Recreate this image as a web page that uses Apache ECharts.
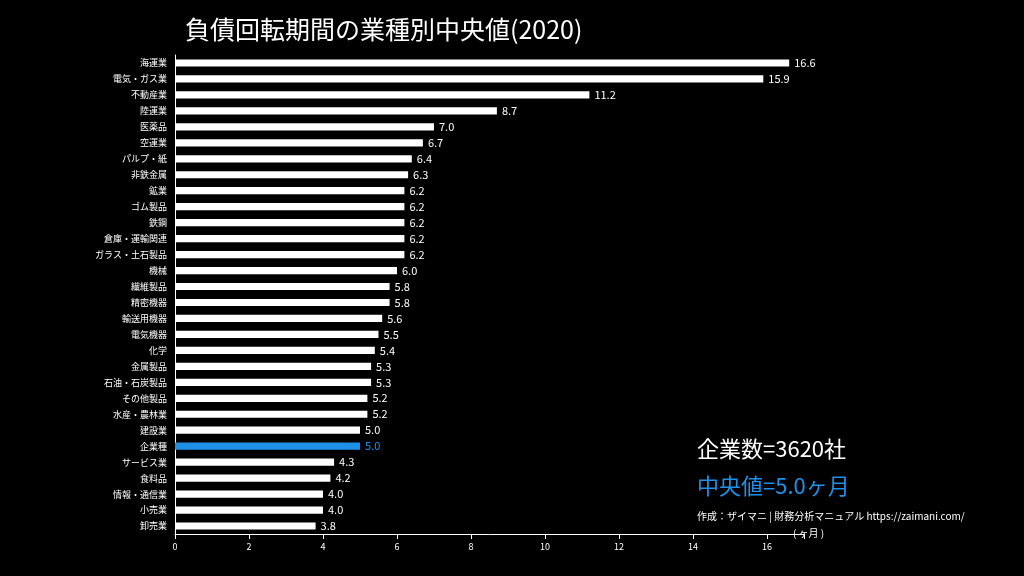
<!DOCTYPE html><html><head><meta charset="utf-8">
<script src="https://cdn.jsdelivr.net/npm/echarts@6/dist/echarts.min.js"></script>
<style>html,body{margin:0;background:#000}#c{width:1024px;height:576px}</style></head><body><div id="c"></div>
<script>
const categories=["海運業","電気・ガス業","不動産業","陸運業","医薬品","空運業","パルプ・紙","非鉄金属","鉱業","ゴム製品","鉄鋼","倉庫・運輸関連","ガラス・土石製品","機械","繊維製品","精密機器","輸送用機器","電気機器","化学","金属製品","石油・石炭製品","その他製品","水産・農林業","建設業","企業種","サービス業","食料品","情報・通信業","小売業","卸売業"];
const values=[16.6,15.9,11.2,8.7,7.0,6.7,6.4,6.3,6.2,6.2,6.2,6.2,6.2,6.0,5.8,5.8,5.6,5.5,5.4,5.3,5.3,5.2,5.2,5.0,5.0,4.3,4.2,4.0,4.0,3.8];
const highlight="企業種";
const xTicks=[0,2,4,6,8,10,12,14,16];
const F='"Noto Sans CJK JP","Noto Sans",sans-serif';
const chart=echarts.init(document.getElementById('c'));
chart.setOption({
 backgroundColor:'#000',animation:false,
 title:{text:'負債回転期間の業種別中央値(2020)',left:180,top:12,textStyle:{color:'#fff',fontSize:25,fontWeight:'normal',fontFamily:F}},
 grid:{left:175,right:220,top:55,bottom:42},
 xAxis:{type:'value',min:0,max:17,interval:2,axisLine:{show:true,lineStyle:{color:'#fff'}},axisTick:{show:true,lineStyle:{color:'#fff'}},splitLine:{show:false},
  axisLabel:{color:'#fff',fontSize:9,fontFamily:F,formatter:v=>xTicks.includes(v)?String(v):''}},
 yAxis:{type:'category',inverse:true,data:categories,axisLine:{show:true,lineStyle:{color:'#fff'}},axisTick:{show:false},
  axisLabel:{color:'#fff',fontSize:9,fontFamily:F}},
 series:[{type:'bar',barWidth:'45%',data:values.map((v,i)=>({value:v,itemStyle:{color:categories[i]===highlight?'#1e90e8':'#fff'},
   label:{color:categories[i]===highlight?'#1e90e8':'#fff'}})),
  label:{show:true,position:'right',fontSize:11,fontFamily:F,formatter:p=>p.value.toFixed(1)}}],
 graphic:[
  {type:'text',left:697,top:438,style:{text:'企業数=3620社',fill:'#fff',fontSize:22,fontFamily:F}},
  {type:'text',left:697,top:475,style:{text:'中央値=5.0ヶ月',fill:'#1e90e8',fontSize:22,fontFamily:F}},
  {type:'text',left:697,top:511,style:{text:'作成：ザイマニ | 財務分析マニュアル https://zaimani.com/',fill:'#fff',fontSize:10,fontFamily:F}},
  {type:'text',left:793,top:528,style:{text:'( ヶ月 )',fill:'#fff',fontSize:10,fontFamily:F}}
 ]
});
</script></body></html>
